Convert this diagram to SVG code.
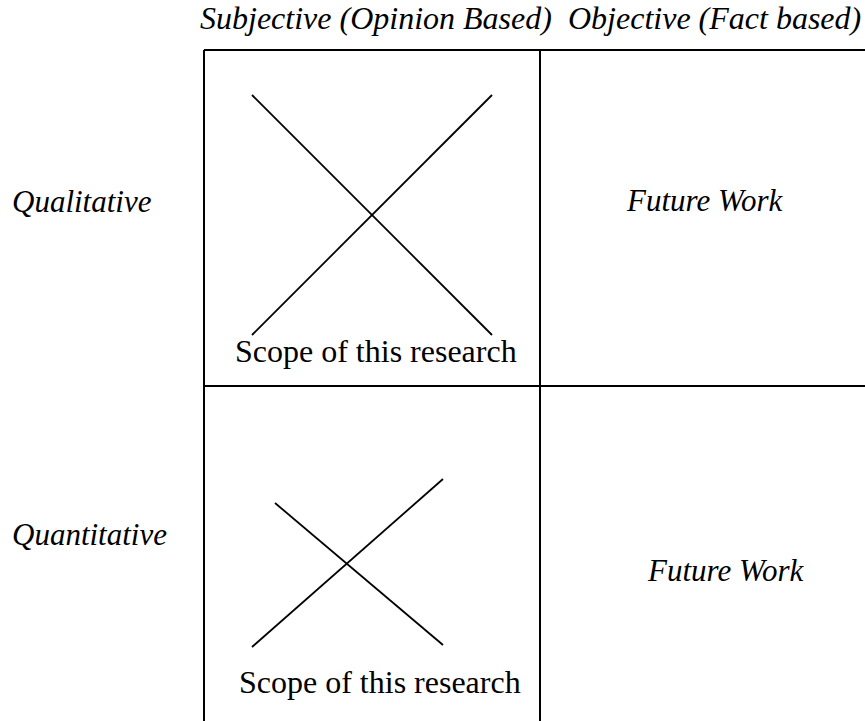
<svg xmlns="http://www.w3.org/2000/svg" width="865" height="721" viewBox="0 0 865 721">
<style>
.t{font-family:"Liberation Serif","Times New Roman",serif;font-size:31px;fill:#000}
.h{font-size:32px}
.s{font-size:32px}
.i{font-style:italic}
.g{stroke:#000;stroke-width:2;fill:none}
.x{stroke:#000;stroke-width:1.8;fill:none}
</style>
<rect width="865" height="721" fill="#fff"/>
<g id="headers">
<text class="t i h" x="200" y="29">Subjective (Opinion Based)</text>
<text class="t i h" x="568" y="29">Objective (Fact based)</text>
<text class="t i" x="12" y="212">Qualitative</text>
<text class="t i" x="12" y="545">Quantitative</text>
</g>
<g id="grid">
<line class="g" x1="204" y1="50" x2="865" y2="50"/>
<line class="g" x1="204" y1="386" x2="865" y2="386"/>
<line class="g" x1="204" y1="50" x2="204" y2="721"/>
<line class="g" x1="540" y1="50" x2="540" y2="721"/>
</g>
<g id="cell-qual-subj">
<line class="x" x1="252" y1="95" x2="492" y2="335"/>
<line class="x" x1="252" y1="335" x2="492" y2="95"/>
<text class="t s" x="235" y="362">Scope of this research</text>
</g>
<g id="cell-qual-obj">
<text class="t i" x="627" y="211">Future Work</text>
</g>
<g id="cell-quan-subj">
<line class="x" x1="275" y1="503" x2="443" y2="645"/>
<line class="x" x1="252" y1="647" x2="443" y2="479"/>
<text class="t s" x="239" y="693">Scope of this research</text>
</g>
<g id="cell-quan-obj">
<text class="t i" x="648" y="581">Future Work</text>
</g>
</svg>
